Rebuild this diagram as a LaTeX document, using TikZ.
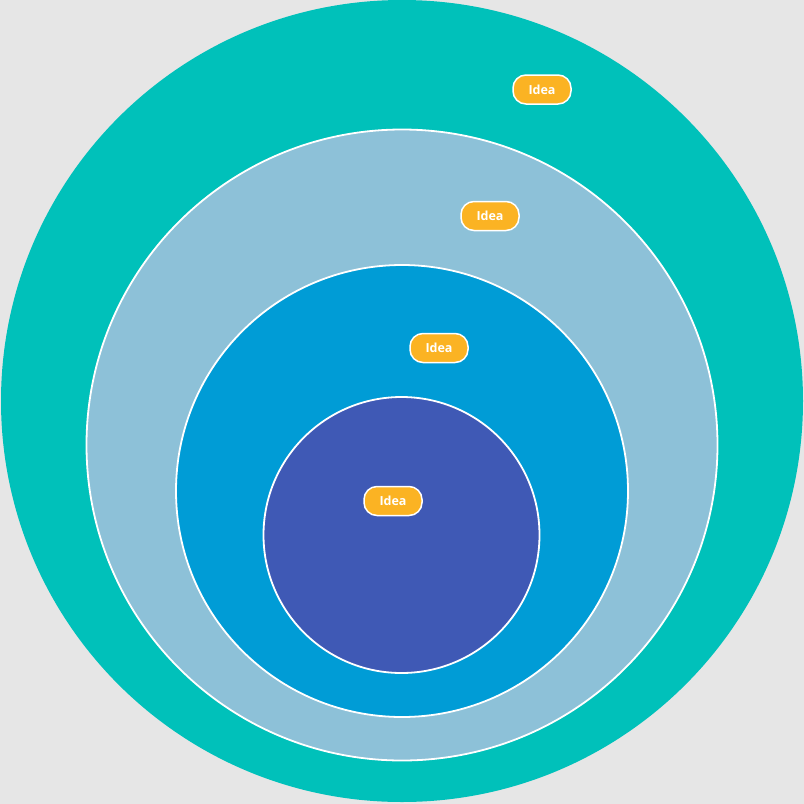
\documentclass[tikz,border=0pt]{standalone}
\usepackage{fontspec}
\setmainfont{Open Sans}
\usepackage{xcolor}
\definecolor{pagegray}{RGB}{230,230,230}
\definecolor{tealring}{RGB}{0,193,186}
\definecolor{paleblue}{RGB}{141,193,216}
\definecolor{midblue}{RGB}{0,156,214}
\definecolor{deepblue}{RGB}{63,89,181}
\definecolor{ideayellow}{RGB}{251,179,35}

\tikzset{
  ring/.style={circle, inner sep=0pt, draw=white, line width=1.8pt},
  idea/.style={rounded corners=13pt, fill=ideayellow, draw=white, line width=1.5pt,
    minimum width=58pt, minimum height=29pt, inner sep=0pt,
    text=white, font=\fontsize{12.5}{14}\selectfont\bfseries}
}

\begin{document}
\begin{tikzpicture}[x=1pt,y=-1pt]
				% Background
				\fill[pagegray] (0,0) rectangle (804,804);
				\useasboundingbox (0,0) rectangle (804,804);
				
				% Rings, outside in
				\node[ring, draw=none, fill=tealring, minimum size=802pt] (outer) at (402,401) {};
				\node[ring, fill=paleblue, minimum size=631pt] (second) at (402,445) {};
				\node[ring, fill=midblue, minimum size=452pt] (third) at (402,491) {};
				\node[ring, fill=deepblue, minimum size=276pt] (core) at (401.5,535) {};
				
				% Labels
				\node[idea] (idea1) at (542,89.5) {Idea};
				\node[idea] (idea2) at (490,216) {Idea};
				\node[idea] (idea3) at (439,348) {Idea};
				\node[idea] (idea4) at (393,501) {Idea};
			\end{tikzpicture}
\end{document}
